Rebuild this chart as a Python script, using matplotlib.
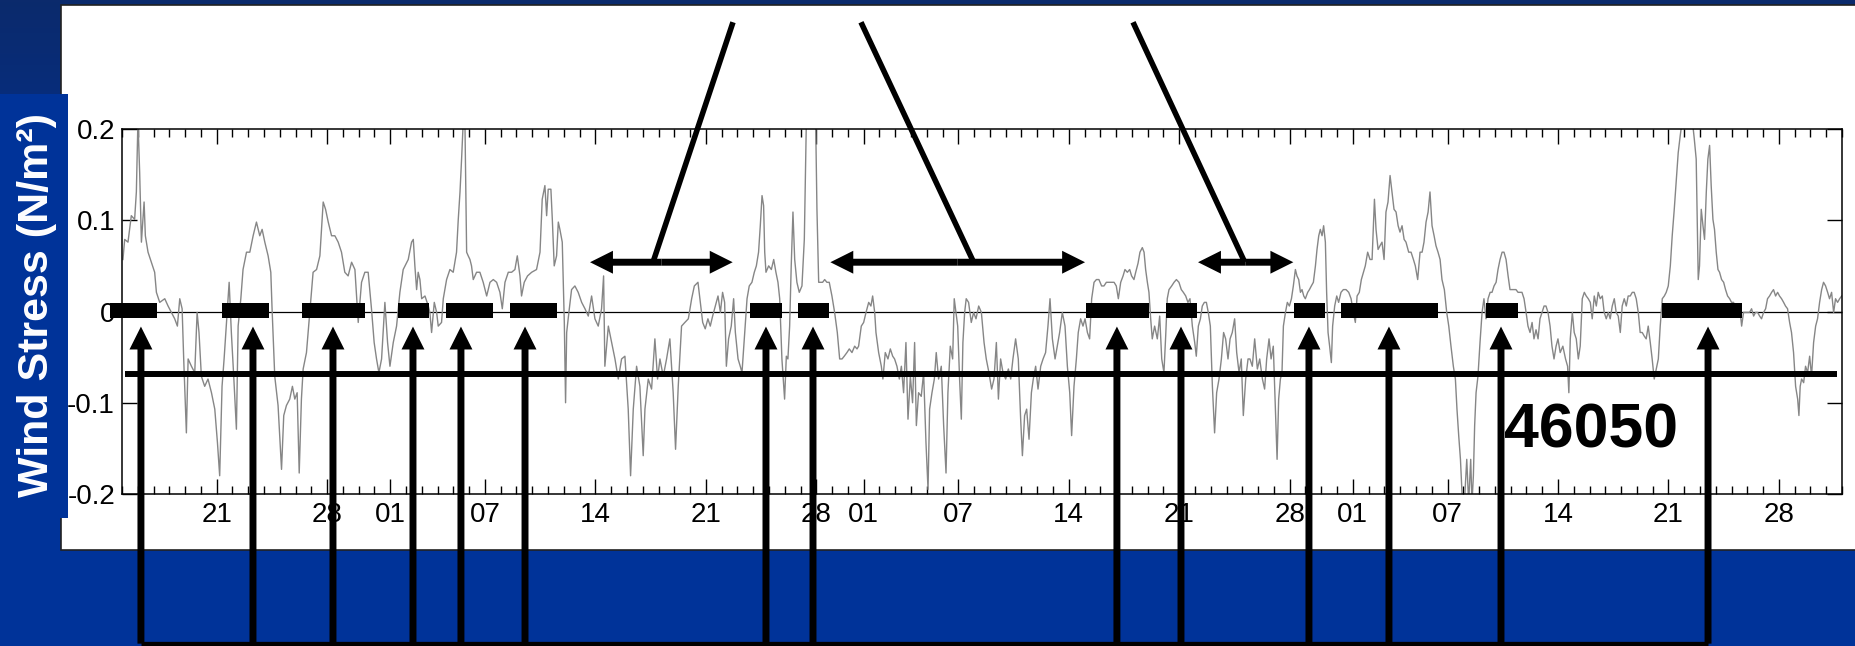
import numpy as np
import matplotlib.pyplot as plt
from matplotlib.patches import Rectangle
from matplotlib.colors import LinearSegmentedColormap
from matplotlib.ticker import MultipleLocator

plt.rcParams['font.family'] = ['Liberation Sans', 'DejaVu Sans']

# Wind stress at buoy 46050, time in days counted from 1 May (32 = 1 Jun, 62 = 1 Jul, 93 = 1 Aug)
seg1_day = [15.06, 15.17, 15.38, 15.59, 15.80, 15.91, 16.01, 16.12, 16.23, 16.40,
            16.48, 16.65, 16.86, 17.07, 17.18, 17.39, 17.71, 17.92, 18.13, 18.34,
            18.51, 18.66, 18.81, 18.91, 19.08, 19.19, 19.40, 19.61, 19.76, 19.88,
            20.03, 20.24, 20.45, 20.67, 20.88, 21.05, 21.19, 21.34, 21.47, 21.62,
            21.79, 21.93, 22.08, 22.25, 22.36, 22.53, 22.67, 22.89, 23.10, 23.31,
            23.52, 23.73, 23.88, 24.05, 24.26, 24.43, 24.51, 24.68, 24.89, 25.11,
            25.25, 25.42, 25.63, 25.80, 25.95, 26.10, 26.23, 26.37, 26.48, 26.69,
            26.90, 27.11, 27.33, 27.54, 27.75, 27.90, 28.07, 28.28, 28.49, 28.70,
            28.91, 29.12, 29.33, 29.55, 29.76, 29.97, 30.18, 30.39, 30.60, 30.81,
            30.98, 31.13, 31.28, 31.45, 31.66, 31.83, 31.98, 32.19, 32.40, 32.61,
            32.82]
seg1_tau = [0.057, 0.079, 0.076, 0.105, 0.101, 0.131, 0.21, 0.152, 0.076, 0.120,
            0.083, 0.065, 0.054, 0.043, 0.021, 0.010, 0.014, 0.006, -0.001, -0.008,
            -0.016, 0.014, 0.003, -0.052, -0.133, -0.052, -0.060, -0.067, -0.001, -0.023,
            -0.071, -0.082, -0.074, -0.089, -0.107, -0.144, -0.180, -0.082, -0.052, -0.012,
            0.032, -0.023, -0.071, -0.129, -0.016, 0.014, 0.046, 0.065, 0.065, 0.083,
            0.098, 0.083, 0.090, 0.076, 0.061, 0.043, 0.003, -0.071, -0.103, -0.173,
            -0.114, -0.103, -0.096, -0.082, -0.096, -0.089, -0.177, -0.096, -0.063, -0.045,
            -0.001, 0.043, 0.046, 0.061, 0.120, 0.112, 0.098, 0.083, 0.083, 0.076,
            0.065, 0.043, 0.039, 0.054, 0.046, -0.012, 0.032, 0.043, 0.043, 0.003,
            -0.034, -0.052, -0.067, -0.052, 0.010, -0.034, -0.060, -0.034, -0.016, 0.021,
            0.046]

seg2_day = [33.14, 33.35, 33.46, 33.56, 33.67, 33.77, 33.88, 33.99, 34.20, 34.41,
            34.51, 34.62, 34.79, 34.94, 35.04, 35.25, 35.36, 35.57, 35.78, 35.99,
            36.20, 36.31, 36.42, 36.52, 36.63, 36.73, 36.84, 36.94, 37.05, 37.15,
            37.26, 37.47, 37.68, 37.89, 38.11, 38.32, 38.53, 38.74, 38.95, 39.10,
            39.27, 39.48, 39.69, 39.90, 40.05, 40.22, 40.32, 40.49, 40.70, 40.96,
            41.27, 41.49, 41.63, 41.80, 41.91, 42.01, 42.18, 42.27, 42.39, 42.54,
            42.65, 42.75, 42.90, 43.03, 43.11, 43.18, 43.32, 43.49, 43.70, 43.91,
            44.13, 44.34, 44.55, 44.76, 44.97, 45.18, 45.39, 45.52, 45.60, 45.82,
            46.03, 46.24, 46.45, 46.66, 46.87, 47.08, 47.23, 47.40, 47.61, 47.82,
            48.03, 48.14, 48.35, 48.56, 48.77, 48.94, 49.09, 49.30, 49.51, 49.72,
            49.93, 50.08, 50.25, 50.46, 50.67, 50.89, 51.10, 51.27]
seg2_tau = [0.057, 0.076, 0.079, 0.050, 0.024, 0.043, 0.035, 0.014, 0.017, 0.006,
            -0.001, -0.023, 0.010, -0.001, -0.016, -0.012, 0.014, 0.035, 0.046, 0.043,
            0.065, 0.101, 0.131, 0.167, 0.21, 0.21, 0.065, 0.061, 0.057, 0.050,
            0.035, 0.043, 0.043, 0.032, 0.017, 0.032, 0.035, 0.032, 0.021, 0.003,
            0.032, 0.043, 0.043, 0.046, 0.061, 0.039, 0.017, 0.032, 0.039, 0.043,
            0.046, 0.065, 0.123, 0.138, 0.105, 0.134, 0.134, 0.101, 0.050, 0.061,
            0.098, 0.090, 0.076, -0.012, -0.100, -0.023, -0.001, 0.024, 0.028, 0.021,
            0.010, 0.003, -0.005, 0.017, -0.008, -0.016, 0.003, 0.039, -0.060, -0.016,
            -0.034, -0.052, -0.074, -0.052, -0.049, -0.107, -0.180, -0.107, -0.060, -0.082,
            -0.158, -0.107, -0.074, -0.085, -0.030, -0.074, -0.052, -0.071, -0.052, -0.030,
            -0.089, -0.151, -0.082, -0.016, -0.012, -0.008, 0.014, 0.028]

seg3_day = [51.50, 51.65, 51.80, 51.96, 52.13, 52.28, 52.43, 52.60, 52.77, 52.92,
            53.06, 53.19, 53.30, 53.44, 53.61, 53.76, 53.87, 54.04, 54.18, 54.29,
            54.46, 54.61, 54.75, 54.92, 55.07, 55.20, 55.34, 55.45, 55.56, 55.66,
            55.73, 55.81, 55.98, 56.15, 56.30, 56.44, 56.57, 56.68, 56.82, 56.99,
            57.10, 57.20, 57.31, 57.41, 57.52, 57.63, 57.77, 57.92, 58.09, 58.24,
            58.37, 58.51, 58.72, 58.94, 59.04, 59.15, 59.25, 59.40, 59.53, 59.67,
            59.82, 59.99, 60.16, 60.33, 60.48, 60.63, 60.77, 60.94, 61.09, 61.26,
            61.43, 61.58, 61.68, 61.85, 62.00, 62.15, 62.32, 62.46, 62.57, 62.70,
            62.78, 62.95, 63.12, 63.22, 63.37, 63.54, 63.69, 63.84, 63.96, 64.11,
            64.26, 64.39, 64.53, 64.68, 64.81, 64.96, 65.10, 65.23, 65.34, 65.48,
            65.65, 65.80, 65.95, 66.08, 66.18, 66.33, 66.48, 66.60, 66.75, 66.92,
            67.07, 67.22, 67.34, 67.49, 67.64, 67.74, 67.96, 68.08, 68.19, 68.29,
            68.40, 68.50, 68.65, 68.82, 68.97, 69.12, 69.29, 69.46]
seg3_tau = [0.032, 0.010, -0.012, -0.019, -0.008, -0.016, -0.005, 0.006, 0.017, -0.001,
            0.021, 0.010, -0.060, -0.030, -0.016, 0.014, -0.023, -0.052, -0.060, -0.067,
            -0.023, 0.014, 0.028, 0.032, 0.043, 0.050, 0.065, 0.094, 0.127, 0.116,
            0.065, 0.043, 0.050, 0.046, 0.057, 0.043, 0.032, 0.014, -0.052, -0.096,
            -0.049, -0.052, -0.016, 0.050, 0.109, 0.057, 0.032, 0.021, 0.028, 0.079,
            0.21, 0.24, 0.25, 0.23, 0.112, 0.032, 0.032, 0.032, 0.035, 0.032,
            0.032, 0.017, -0.001, -0.023, -0.052, -0.052, -0.049, -0.045, -0.041, -0.045,
            -0.038, -0.041, -0.038, -0.016, -0.012, -0.001, 0.010, 0.006, 0.017, -0.001,
            -0.023, -0.045, -0.060, -0.074, -0.045, -0.052, -0.041, -0.049, -0.052, -0.060,
            -0.074, -0.060, -0.089, -0.034, -0.118, -0.071, -0.100, -0.034, -0.125, -0.089,
            -0.093, -0.067, -0.144, -0.195, -0.107, -0.089, -0.074, -0.045, -0.074, -0.060,
            -0.125, -0.177, -0.089, -0.038, -0.052, 0.014, -0.016, -0.074, -0.118, -0.034,
            -0.001, 0.014, 0.010, -0.012, -0.001, -0.008, 0.006, -0.001]

seg4_day = [69.63, 69.77, 69.94, 70.11, 70.26, 70.41, 70.54, 70.68, 70.83, 71.00,
            71.17, 71.32, 71.46, 71.63, 71.80, 71.95, 72.06, 72.20, 72.33, 72.48,
            72.63, 72.75, 72.90, 73.05, 73.22, 73.37, 73.53, 73.68, 73.81, 73.96,
            74.13, 74.27, 74.42, 74.59, 74.76, 74.91, 75.06, 75.18, 75.33, 75.48,
            75.60, 75.75, 75.90, 76.03, 76.18, 76.32, 76.45, 76.60, 76.75, 76.91,
            77.08, 77.23, 77.38, 77.55, 77.70, 77.87, 78.01, 78.14, 78.29, 78.44,
            78.56, 78.71, 78.86, 78.98, 79.13, 79.24, 79.39, 79.51, 79.66, 79.77,
            79.87, 79.98, 80.08, 80.19, 80.29, 80.44, 80.61, 80.76, 80.89, 81.03,
            81.14, 81.24, 81.35, 81.52, 81.67, 81.82, 81.98, 82.13, 82.26, 82.41,
            82.55, 82.68, 82.83, 82.98, 83.08, 83.21, 83.34, 83.46, 83.59, 83.72,
            83.84, 83.97, 84.10, 84.24, 84.37, 84.52, 84.67, 84.81, 84.94, 85.09,
            85.22, 85.36, 85.51, 85.64, 85.79, 85.93, 86.06, 86.21, 86.36, 86.48,
            86.63, 86.78, 86.95, 87.10, 87.27, 87.41, 87.54, 87.69]
seg4_tau = [-0.034, -0.052, -0.067, -0.085, -0.074, -0.034, -0.096, -0.052, -0.067, -0.074,
            -0.063, -0.074, -0.052, -0.030, -0.052, -0.118, -0.158, -0.114, -0.107, -0.140,
            -0.089, -0.074, -0.060, -0.085, -0.060, -0.052, -0.045, -0.016, 0.014, -0.030,
            -0.052, -0.038, -0.023, -0.001, -0.016, -0.060, -0.089, -0.136, -0.082, -0.052,
            -0.023, -0.008, -0.016, -0.008, -0.023, -0.030, 0.014, 0.032, 0.035, 0.035,
            0.028, 0.028, 0.032, 0.032, 0.032, 0.032, 0.028, 0.014, 0.032, 0.039,
            0.046, 0.043, 0.046, 0.039, 0.035, 0.043, 0.053, 0.065, 0.070, 0.065,
            0.046, 0.032, 0.021, -0.008, -0.030, -0.016, -0.030, -0.005, -0.052, -0.067,
            -0.027, 0.014, 0.024, 0.028, 0.032, 0.035, 0.032, 0.024, 0.021, 0.017,
            0.010, 0.014, -0.016, -0.034, -0.049, -0.016, -0.008, 0.006, 0.010, 0.010,
            -0.001, -0.016, -0.082, -0.133, -0.089, -0.074, -0.052, -0.023, -0.030, -0.052,
            -0.030, -0.023, -0.008, -0.045, -0.067, -0.052, -0.114, -0.074, -0.052, -0.052,
            -0.060, -0.030, -0.063, -0.052, -0.074, -0.085, -0.052, -0.030]

seg5_day = [87.82, 87.96, 88.09, 88.20, 88.30, 88.41, 88.51, 88.60, 88.73, 88.85,
            88.98, 89.11, 89.23, 89.36, 89.46, 89.57, 89.68, 89.78, 89.89, 89.99,
            90.14, 90.25, 90.37, 90.50, 90.63, 90.73, 90.84, 90.94, 91.05, 91.15,
            91.26, 91.34, 91.43, 91.53, 91.64, 91.72, 91.85, 91.98, 92.10, 92.25,
            92.40, 92.57, 92.74, 92.89, 93.03, 93.16, 93.27, 93.41, 93.54, 93.67,
            93.79, 93.94, 94.09, 94.22, 94.37, 94.47, 94.60, 94.72, 94.85, 94.98,
            95.10, 95.23, 95.36, 95.48, 95.61, 95.74, 95.87, 95.99, 96.12, 96.25,
            96.37, 96.54, 96.69, 96.84, 96.96, 97.11, 97.26, 97.39, 97.51, 97.64,
            97.77, 97.89, 98.02, 98.15, 98.27, 98.40, 98.53, 98.65, 98.80, 98.95,
            99.08, 99.22, 99.37, 99.50, 99.60, 99.71, 99.82, 99.92, 100.07, 100.22,
            100.34, 100.47, 100.55, 100.64, 100.72, 100.81, 100.93, 101.06, 101.19, 101.31,
            101.44, 101.57, 101.70, 101.82, 101.95, 102.08, 102.20, 102.33, 102.46, 102.58,
            102.71, 102.84, 102.96, 103.09, 103.22, 103.34, 103.47, 103.60, 103.72, 103.85,
            103.98, 104.10, 104.23, 104.36, 104.48, 104.61, 104.74, 104.86, 104.99, 105.12,
            105.24, 105.37, 105.50, 105.62, 105.75, 105.88]
seg5_tau = [-0.052, -0.038, -0.107, -0.162, -0.096, -0.074, -0.067, -0.016, -0.001, 0.010,
            0.006, 0.014, 0.028, 0.046, 0.039, 0.035, 0.021, 0.024, 0.017, 0.014,
            0.021, 0.024, 0.028, 0.032, 0.050, 0.068, 0.083, 0.090, 0.083, 0.094,
            0.076, 0.021, -0.023, -0.038, -0.056, -0.016, 0.006, 0.017, 0.010, 0.021,
            0.024, 0.024, 0.021, 0.014, -0.001, -0.012, 0.017, 0.021, 0.035, 0.043,
            0.050, 0.065, 0.057, 0.057, 0.123, 0.090, 0.068, 0.072, 0.076, 0.057,
            0.109, 0.120, 0.149, 0.131, 0.112, 0.109, 0.094, 0.087, 0.094, 0.079,
            0.076, 0.065, 0.065, 0.057, 0.050, 0.035, 0.065, 0.065, 0.076, 0.098,
            0.109, 0.131, 0.094, 0.083, 0.072, 0.065, 0.057, 0.035, 0.024, -0.001,
            -0.016, -0.038, -0.060, -0.074, -0.107, -0.136, -0.162, -0.199, -0.21, -0.162,
            -0.21, -0.162, -0.21, -0.180, -0.125, -0.089, -0.071, -0.034, -0.001, 0.014,
            -0.008, 0.014, 0.021, 0.021, 0.028, 0.032, 0.046, 0.057, 0.065, 0.065,
            0.057, 0.039, 0.024, 0.024, 0.024, 0.024, 0.021, 0.021, 0.021, 0.014,
            -0.001, -0.016, -0.023, -0.012, -0.030, -0.020, -0.030, -0.008, -0.001, 0.006,
            0.006, -0.001, -0.016, -0.038, -0.052, -0.038]

seg6_day = [106.00, 106.14, 106.31, 106.48, 106.61, 106.69, 106.78, 106.91, 107.03, 107.16,
            107.29, 107.41, 107.54, 107.67, 107.79, 107.92, 108.05, 108.17, 108.30, 108.43,
            108.55, 108.68, 108.81, 108.93, 109.06, 109.19, 109.31, 109.44, 109.57, 109.69,
            109.82, 109.95, 110.07, 110.20, 110.33, 110.45, 110.58, 110.71, 110.83, 110.96,
            111.09, 111.21, 111.34, 111.47, 111.59, 111.72, 111.85, 111.97, 112.10, 112.23,
            112.36, 112.48, 112.61, 112.74, 112.86, 112.99, 113.12, 113.24, 113.37, 113.50,
            113.62, 113.75, 113.88, 114.02, 114.17, 114.34, 114.51, 114.64, 114.76, 114.89,
            114.97, 115.08, 115.19, 115.29, 115.40, 115.50, 115.61, 115.71, 115.82, 115.92,
            116.03, 116.14, 116.24, 116.37, 116.50, 116.62, 116.75, 116.88, 117.00, 117.13,
            117.26, 117.38, 117.51, 117.64, 117.76, 117.89, 118.02, 118.14, 118.27, 118.40,
            118.52, 118.65, 118.78, 118.90, 119.03, 119.16, 119.28, 119.41, 119.54, 119.66,
            119.79, 119.92, 120.04, 120.17, 120.30, 120.42, 120.55, 120.68, 120.80, 120.93,
            121.06, 121.19, 121.27, 121.35, 121.44, 121.57, 121.69, 121.82, 121.95, 122.07,
            122.20, 122.33, 122.45, 122.58, 122.71, 122.83, 122.96, 123.09, 123.21, 123.34,
            123.47, 123.59, 123.72, 123.85, 123.98]
seg6_tau = [-0.030, -0.045, -0.038, -0.052, -0.060, -0.089, -0.030, -0.001, -0.023, -0.030,
            -0.052, -0.038, 0.014, 0.021, 0.017, 0.014, 0.010, -0.008, 0.017, 0.006,
            0.021, 0.014, 0.017, -0.001, -0.008, -0.001, -0.008, 0.006, 0.014, -0.001,
            -0.005, -0.023, 0.006, 0.014, 0.006, 0.017, 0.017, 0.021, 0.021, 0.014,
            -0.001, -0.023, -0.023, -0.027, -0.030, -0.016, -0.034, -0.052, -0.074, -0.063,
            -0.052, -0.016, 0.014, 0.017, 0.021, 0.028, 0.050, 0.083, 0.112, 0.145,
            0.174, 0.193, 0.21, 0.22, 0.21, 0.22, 0.21, 0.189, 0.167, 0.035,
            0.050, 0.112, 0.094, 0.079, 0.131, 0.167, 0.182, 0.138, 0.101, 0.090,
            0.065, 0.046, 0.043, 0.035, 0.032, 0.024, 0.017, 0.014, 0.010, 0.010,
            -0.001, 0.003, 0.006, -0.016, -0.001, -0.001, -0.001, -0.001, 0.003, -0.005,
            -0.001, -0.001, -0.005, -0.008, -0.001, 0.003, 0.014, 0.017, 0.021, 0.024,
            0.017, 0.021, 0.017, 0.014, 0.010, 0.006, 0.003, -0.012, -0.023, -0.045,
            -0.082, -0.096, -0.114, -0.082, -0.074, -0.078, -0.060, -0.067, -0.049, -0.071,
            -0.034, -0.016, -0.008, 0.010, 0.024, 0.032, 0.028, 0.021, 0.014, 0.021,
            -0.001, 0.014, 0.010, 0.014, 0.017]

# event periods (black bars on the zero line) and the arrows under them
event_start = [14.24, 21.34, 26.41, 32.49, 35.53, 39.59, 54.80, 57.84, 76.09, 81.16, 89.27, 92.25, 101.44, 112.59]
event_end = [17.22, 24.32, 30.40, 34.46, 38.51, 42.57, 56.83, 59.80, 80.08, 83.12, 91.24, 98.40, 103.47, 117.66]
arrow_day = [16.20, 23.30, 28.37, 33.44, 36.48, 40.54, 55.81, 58.79, 78.05, 82.11, 90.22, 95.29, 102.39, 115.51]

# relaxation spans (double arrows) and the pointer lines above them
span_left = [44.66, 59.89, 83.19]
span_right = [53.70, 76.03, 89.23]
pointer_top = [53.72, 61.83, 79.07]
pointer_bottom = [48.65, 68.97, 86.15]

major_days = [21, 28, 32, 38, 45, 52, 59, 62, 68, 75, 82, 89, 93, 99, 106, 113, 120]
major_labels = ['21', '28', '01', '07', '14', '21', '28', '01', '07', '14',
                '21', '28', '01', '07', '14', '21', '28']
ytick_vals = [-0.2, -0.1, 0, 0.1, 0.2]
ytick_labels = ['-0.2', '-0.1', '0', '0.1', '0.2']

day = np.concatenate([seg1_day, seg2_day, seg3_day, seg4_day, seg5_day, seg6_day])
tau = np.concatenate([seg1_tau, seg2_tau, seg3_tau, seg4_tau, seg5_tau, seg6_tau])

W, H = 1855, 646
fig = plt.figure(figsize=(W / 100, H / 100), dpi=100)

# slide background
bg = fig.add_axes([0, 0, 1, 1], zorder=0)
cmap = LinearSegmentedColormap.from_list('slide', ['#0b2a6c', '#003399'])
shade = np.clip(np.linspace(0, 1, H) / 0.45, 0, 1)[:, None] * np.ones((1, 4))
bg.imshow(shade, cmap=cmap, extent=[0, W, H, 0], aspect='auto', vmin=0, vmax=1)
bg.add_patch(Rectangle((61, 5), W, 545, facecolor='white', edgecolor='#222222', lw=1.2))
bg.add_patch(Rectangle((0, 94), 68, 424, facecolor='#003399', edgecolor='none'))
bg.set_xlim(0, W)
bg.set_ylim(H, 0)
bg.axis('off')

fig.text(37 / W, 1 - 305 / H, 'Wind Stress (N/m²)', rotation=90, color='white',
         fontsize=31, fontweight='bold', ha='center', va='center', zorder=5)

ax = fig.add_axes([122 / W, 1 - 494 / H, 1720 / W, 365 / H], zorder=2)
ax.plot(day, tau, color='#868686', lw=1.0, zorder=2)
ax.axhline(0, color='black', lw=0.9, zorder=1.5)

ax.set_xlim(15, 124)
ax.set_ylim(-0.2, 0.2)
ax.set_xticks(major_days)
ax.set_xticklabels(major_labels)
ax.xaxis.set_minor_locator(MultipleLocator(1))
ax.set_yticks(ytick_vals)
ax.set_yticklabels(ytick_labels)
ax.tick_params(which='both', direction='in', top=True, right=True, width=1.0, labelsize=20)
ax.tick_params(which='major', length=10.8)
ax.tick_params(which='minor', length=5.8)
ax.tick_params(axis='x', pad=5.5)
ax.tick_params(axis='y', pad=5)
for sp in ax.spines.values():
    sp.set_linewidth(1.1)

# annotations
widths = np.array(event_end) - np.array(event_start)
ax.barh(0.0013, widths, left=event_start, height=0.017, color='black', zorder=4, clip_on=False)

head = 'simple,head_length=16.5,head_width=16.5,tail_width=5'
for d in arrow_day:
    ax.annotate('', xy=(d, -0.0165), xytext=(d, -0.364), annotation_clip=False, zorder=5,
                arrowprops=dict(arrowstyle=head, mutation_scale=1, color='black', lw=0,
                                shrinkA=0, shrinkB=0, clip_on=False))
ax.plot([arrow_day[0], arrow_day[-1]], [-0.364, -0.364], color='black', lw=3.8,
        solid_capstyle='butt', clip_on=False, zorder=5)
ax.plot([15.19, 123.68], [-0.069, -0.069], color='black', lw=4.3,
        solid_capstyle='butt', clip_on=False, zorder=4)

for l, r in zip(span_left, span_right):
    mid = (l + r) / 2
    for end in (l, r):
        ax.annotate('', xy=(end, 0.054), xytext=(mid, 0.054), annotation_clip=False, zorder=5,
                    arrowprops=dict(arrowstyle=head, mutation_scale=1, color='black', lw=0,
                                    shrinkA=0, shrinkB=0, clip_on=False))
for t, b in zip(pointer_top, pointer_bottom):
    ax.plot([t, b], [0.317, 0.054], color='black', lw=4, solid_capstyle='butt',
            clip_on=False, zorder=5)

ax.text(108.09, -0.149, '46050', fontsize=45, fontweight='bold', ha='center',
        va='baseline', zorder=4)

fig.savefig('out.png', dpi=100)
